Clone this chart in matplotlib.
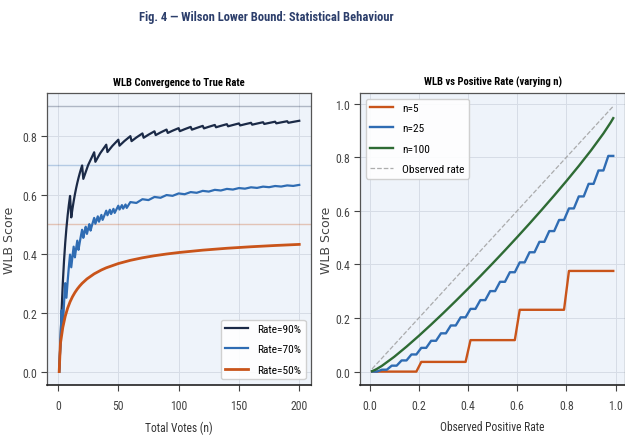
import matplotlib
matplotlib.use("Agg")
import matplotlib.pyplot as plt
import numpy as np

# ---------------- data ----------------
# Left panel: WLB score vs total votes for three true rates
votes_90 = list(range(1, 22)) + [25, 30,
            31, 35, 40, 41, 45, 50, 51, 55, 60, 61, 65, 70, 71, 75, 80, 81, 85, 90,
            91, 95, 100, 101, 105, 110, 111, 115, 120, 121, 125, 130, 131, 135, 140,
            141, 145, 150, 151, 155, 160, 161, 165, 170, 171, 175, 180, 181, 185, 190,
            191, 195, 200]
wlb_90 = [0.0, 0.0945, 0.2077, 0.3006, 0.3755, 0.4365, 0.4869, 0.5291, 0.5650, 0.5958,
          0.5230, 0.5520, 0.5776, 0.6006, 0.6212, 0.6398, 0.6566, 0.6720, 0.6861, 0.6990,
          0.6536, 0.7004, 0.7438,
          0.7115, 0.7405, 0.7695, 0.7446, 0.7650, 0.7864, 0.7662, 0.7817, 0.7985,
          0.7816, 0.7940, 0.8077, 0.7931, 0.8034, 0.8149, 0.8021, 0.8109, 0.8208,
          0.8094, 0.8170, 0.8256, 0.8154, 0.8221, 0.8298, 0.8205, 0.8264, 0.8333,
          0.8248, 0.8302, 0.8364, 0.8286, 0.8334, 0.8391, 0.8319, 0.8363, 0.8416,
          0.8348, 0.8389, 0.8437, 0.8374, 0.8412, 0.8457, 0.8398, 0.8433, 0.8475,
          0.8419, 0.8452, 0.8491, 0.8438, 0.8469, 0.8506]

votes_70 = list(range(1, 32)) + [33, 34, 36, 37, 40, 41, 43, 44, 46, 47, 50, 51, 53, 54,
            56, 57, 60, 65, 70, 75, 80, 85, 90, 95, 100, 105, 110, 115, 120, 125, 130,
            135, 140, 145, 150, 155, 160, 165, 170, 175, 180, 185, 190, 195, 200]
wlb_70 = [0.0, 0.0945, 0.2077, 0.1500, 0.2307, 0.3000, 0.2505, 0.3057, 0.3542, 0.3968,
          0.3538, 0.3906, 0.4237, 0.3876, 0.4171, 0.4440, 0.4130, 0.4375, 0.4601, 0.4810,
          0.4537, 0.4732, 0.4913, 0.4671, 0.4841, 0.5001, 0.4782, 0.4934, 0.5077, 0.5212,
          0.5014, 0.5266, 0.5084, 0.5314, 0.5146, 0.5457, 0.5302, 0.5489, 0.5344, 0.5519,
          0.5383, 0.5625, 0.5497, 0.5646, 0.5526, 0.5666, 0.5552, 0.5749,
          0.5720, 0.5846, 0.5817, 0.5923, 0.5895, 0.5987, 0.5961, 0.6042, 0.6016, 0.6088,
          0.6064, 0.6129, 0.6105, 0.6164, 0.6142, 0.6196, 0.6174, 0.6224, 0.6204, 0.6250,
          0.6230, 0.6273, 0.6254, 0.6294, 0.6276, 0.6314, 0.6297, 0.6332]

votes_50 = [1, 2, 4, 6, 8, 10, 12, 14, 16, 18, 20, 24, 30, 36, 40, 50, 60,
            70, 80, 90, 100, 120, 140, 160, 180, 200]
wlb_50 = [0.0, 0.0945, 0.1500, 0.1876, 0.2152, 0.2366,
          0.2538, 0.2680, 0.2800, 0.2903, 0.2993, 0.3143, 0.3315, 0.3447, 0.3520, 0.3664,
          0.3774, 0.3860, 0.3930, 0.3988, 0.4038, 0.4119, 0.4183, 0.4234, 0.4277, 0.4314]

true_rates = [0.9, 0.7, 0.5]
rate_labels = ["Rate=90%", "Rate=70%", "Rate=50%"]

# Right panel: WLB vs observed positive rate, sampled on an even grid of 50 rates
observed_rate = np.linspace(0.01, 0.99, 50)
wlb_n5 = [0.0, 0.0, 0.0, 0.0, 0.0, 0.0, 0.0, 0.0, 0.0, 0.0,
          0.0362, 0.0362, 0.0362, 0.0362, 0.0362, 0.0362, 0.0362, 0.0362, 0.0362, 0.0362,
          0.1175, 0.1175, 0.1175, 0.1175, 0.1175, 0.1175, 0.1175, 0.1175, 0.1175, 0.1175,
          0.2306, 0.2306, 0.2306, 0.2306, 0.2306, 0.2306, 0.2306, 0.2306, 0.2306, 0.2306,
          0.3755, 0.3755, 0.3755, 0.3755, 0.3755, 0.3755, 0.3755, 0.3755, 0.3755, 0.3755]
wlb_n25 = [0.0, 0.0, 0.0071, 0.0071, 0.0222, 0.0222, 0.0417, 0.0417, 0.0640, 0.0640,
           0.0886, 0.0886, 0.1150, 0.1150, 0.1428, 0.1428, 0.1721, 0.1721, 0.2025, 0.2025,
           0.2340, 0.2340, 0.2667, 0.2667, 0.3003, 0.3003, 0.3350, 0.3350, 0.3707, 0.3707,
           0.4074, 0.4074, 0.4452, 0.4452, 0.4841, 0.4841, 0.5242, 0.5242, 0.5657, 0.5657,
           0.6087, 0.6087, 0.6535, 0.6535, 0.7004, 0.7004, 0.7503, 0.7503, 0.8046, 0.8046]

n100_rates = [0.01, 0.02, 0.03, 0.05, 0.10, 0.15, 0.20, 0.25, 0.30, 0.35, 0.40, 0.45, 0.50,
              0.55, 0.60, 0.65, 0.70, 0.75, 0.80, 0.85, 0.90, 0.95, 0.98, 0.99]
wlb_n100 = [0.0018, 0.0055, 0.0103, 0.0215, 0.0552, 0.0931, 0.1334, 0.1755, 0.2189, 0.2636,
            0.3094, 0.3561, 0.4038, 0.4524, 0.5020, 0.5525, 0.6042, 0.6570, 0.7112, 0.7672,
            0.8256, 0.8883, 0.9300, 0.9455]

# ---------------- style ----------------
NARROW = ['Liberation Sans Narrow', 'Roboto Condensed', 'Open Sans Condensed',
          'Liberation Sans', 'DejaVu Sans']
plt.rcParams['font.family'] = NARROW
plt.rcParams['axes.unicode_minus'] = False

c90, c70, c50 = '#1b2a47', '#2f6cb3', '#c9541a'
cgreen = '#2e6b34'
face = '#eef3fa'
tick_col = '#444444'

fig = plt.figure(figsize=(6.25, 4.39), dpi=100)
fig.patch.set_facecolor('white')

ax1 = fig.add_axes([0.0755, 0.121, 0.4225, 0.665])
ax2 = fig.add_axes([0.576, 0.121, 0.4245, 0.665])

for ax in (ax1, ax2):
    ax.set_facecolor(face)
    ax.grid(True, color='#d6dce6', linewidth=0.7)
    ax.set_axisbelow(True)
    for s in ax.spines.values():
        s.set_color('#555555')
        s.set_linewidth(0.9)
    ax.spines['bottom'].set_color('#222222')
    ax.spines['bottom'].set_linewidth(1.2)
    ax.tick_params(labelsize=8.5, colors=tick_col, length=4, width=0.8, pad=3)
    ax.tick_params(axis='x', pad=6)

# ---- left ----
for r, col in zip(true_rates, (c90, c70, c50)):
    ax1.axhline(r, color=col, alpha=0.3, linewidth=1.0)
ax1.plot(votes_90, wlb_90, color=c90, linewidth=1.6, label=rate_labels[0])
ax1.plot(votes_70, wlb_70, color=c70, linewidth=1.6, label=rate_labels[1])
ax1.plot(votes_50, wlb_50, color=c50, linewidth=2.0, label=rate_labels[2])
ax1.set_xlim(-8.95, 209.95)
ax1.set_ylim(-0.045, 0.945)
ax1.set_xticks([0, 50, 100, 150, 200])
ax1.set_yticks([0.0, 0.2, 0.4, 0.6, 0.8])
ax1.set_title('WLB Convergence to True Rate', fontsize=7.7, fontweight='bold', pad=6)
ax1.set_xlabel('Total Votes (n)', fontsize=8.3, color='#333333', labelpad=6)
ax1.set_ylabel('WLB Score', fontsize=9, color='#444444', family='DejaVu Sans', labelpad=5)
ax1.legend(loc='lower right', fontsize=8.2, framealpha=0.9, labelspacing=0.9,
           edgecolor='#cccccc', fancybox=True)

# ---- right ----
ax2.plot(observed_rate, wlb_n5, color=c50, linewidth=1.7, label='n=5')
ax2.plot(observed_rate, wlb_n25, color=c70, linewidth=1.7, label='n=25')
ax2.plot(n100_rates, wlb_n100, color=cgreen, linewidth=1.7, label='n=100')
ax2.plot(observed_rate, observed_rate, color='#999999', linestyle='--', linewidth=0.9,
         alpha=0.8, label='Observed rate')
ax2.set_xlim(-0.039, 1.039)
ax2.set_ylim(-0.0495, 1.0395)
ax2.set_xticks([0.0, 0.2, 0.4, 0.6, 0.8, 1.0])
ax2.set_yticks([0.0, 0.2, 0.4, 0.6, 0.8, 1.0])
ax2.set_title('WLB vs Positive Rate (varying n)', fontsize=7.7, fontweight='bold', pad=6)
ax2.set_xlabel('Observed Positive Rate', fontsize=8.3, color='#333333', labelpad=6)
ax2.set_ylabel('WLB Score', fontsize=9, color='#444444', family='DejaVu Sans', labelpad=2)
ax2.legend(loc='upper left', fontsize=8.2, framealpha=0.9, labelspacing=0.9,
           edgecolor='#cccccc', fancybox=True)

fig.suptitle('Fig. 4 \u2014 Wilson Lower Bound: Statistical Behaviour', fontsize=9,
             fontweight='bold', color='#2c3e6b', x=0.426, y=0.961, va='center')

fig.savefig('out.png', dpi=100)
